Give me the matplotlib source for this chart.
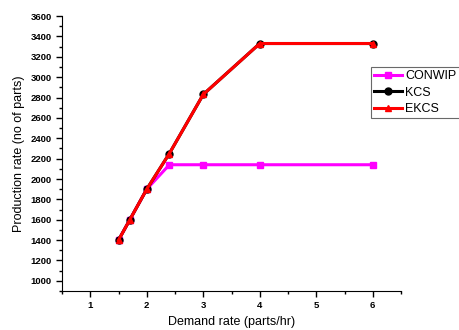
import matplotlib
matplotlib.use("Agg")
import matplotlib.pyplot as plt
from matplotlib.ticker import MultipleLocator

plt.rcParams['font.family'] = ['Liberation Sans', 'DejaVu Sans']

demand = [1.5, 1.7, 2.0, 2.4, 3.0, 4.0, 6.0]
conwip = [1400, 1600, 1900, 2140, 2140, 2140, 2140]
kcs = [1400, 1600, 1900, 2250, 2830, 3330, 3330]
ekcs = [1400, 1600, 1900, 2250, 2830, 3330, 3330]

fig = plt.figure(figsize=(4.6, 3.3), dpi=100)
ax = fig.add_axes([0.1348, 0.118, 0.737, 0.8335])

ax.plot(demand, conwip, color='#ff00ff', lw=2.2, marker='s', ms=5, label='CONWIP')
ax.plot(demand, kcs, color='black', lw=2.2, marker='o', ms=5, label='KCS')
ax.plot(demand, ekcs, color='red', lw=2.2, marker='^', ms=5, label='EKCS')

ax.set_xlim(0.5, 6.5)
ax.set_ylim(900, 3600)
ax.set_xticks([1, 2, 3, 4, 5, 6])
ax.set_yticks(list(range(1000, 3601, 200)))
ax.xaxis.set_minor_locator(MultipleLocator(0.5))
ax.yaxis.set_minor_locator(MultipleLocator(100))
for s in ['top', 'right']:
    ax.spines[s].set_visible(False)
ax.tick_params(which='major', direction='out', length=4, width=1, labelsize=6.8)
ax.tick_params(which='minor', direction='out', length=2, width=1)
for lab in ax.get_xticklabels() + ax.get_yticklabels():
    lab.set_fontweight('bold')

ax.set_xlabel('Demand rate (parts/hr)', fontsize=9)
ax.set_ylabel('Production rate (no of parts)', fontsize=9)

leg = fig.legend(loc='upper left', bbox_to_anchor=(371/460, 1 - 67/330), fontsize=9,
                 frameon=True, fancybox=False, edgecolor='#444444', borderpad=0.25,
                 handlelength=2.2, handletextpad=0.3, labelspacing=0.35, borderaxespad=0)
leg.get_frame().set_linewidth(0.8)

fig.savefig('out.png', dpi=100)
